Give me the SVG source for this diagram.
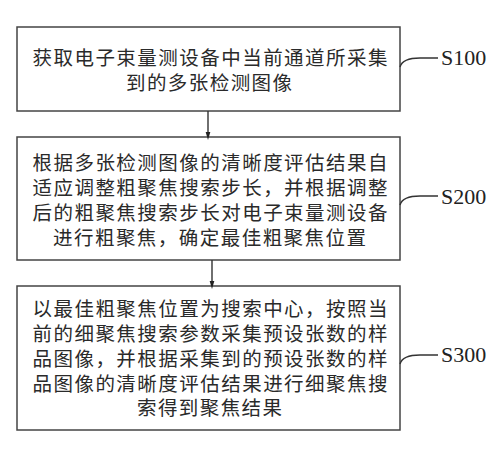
<svg xmlns="http://www.w3.org/2000/svg" width="501" height="455" viewBox="0 0 501 455">
<defs>
<marker id="arr" markerWidth="8" markerHeight="12" refX="7.5" refY="3.5" orient="auto" markerUnits="userSpaceOnUse" viewBox="0 0 12 7">
<path d="M0,0 L12,3.5 L0,7 Z" fill="#222"/>
</marker>
<style>
.box{fill:#fff;stroke:#444;stroke-width:1.5}
.t{font-family:"Noto Sans CJK SC","Noto Sans",sans-serif;font-size:19.5px;fill:#2a2a2a;text-anchor:middle}
.lbl{font-family:"Liberation Serif",serif;font-size:22px;fill:#222}
.ln{fill:none;stroke:#333;stroke-width:1.4}
</style>
</defs>
<rect width="501" height="455" fill="#fff"/>
<g id="n1">
<rect class="box" x="17" y="27" width="383" height="84"/>
<text class="t" x="210" y="65" textLength="355" lengthAdjust="spacing">获取电子束量测设备中当前通道所采集</text>
<text class="t" x="209" y="90" textLength="166" lengthAdjust="spacing">到的多张检测图像</text>
</g>
<g id="n2">
<rect class="box" x="17" y="137" width="383" height="123"/>
<text class="t" x="210" y="170" textLength="355" lengthAdjust="spacing">根据多张检测图像的清晰度评估结果自</text>
<text class="t" x="210" y="195" textLength="355" lengthAdjust="spacing">适应调整粗聚焦搜索步长，并根据调整</text>
<text class="t" x="210" y="220" textLength="355" lengthAdjust="spacing">后的粗聚焦搜索步长对电子束量测设备</text>
<text class="t" x="209.5" y="245" textLength="313" lengthAdjust="spacing">进行粗聚焦，确定最佳粗聚焦位置</text>
</g>
<g id="n3">
<rect class="box" x="17" y="286" width="383" height="144"/>
<text class="t" x="210" y="316" textLength="355" lengthAdjust="spacing">以最佳粗聚焦位置为搜索中心，按照当</text>
<text class="t" x="210" y="341" textLength="355" lengthAdjust="spacing">前的细聚焦搜索参数采集预设张数的样</text>
<text class="t" x="210" y="366" textLength="355" lengthAdjust="spacing">品图像，并根据采集到的预设张数的样</text>
<text class="t" x="210" y="391" textLength="355" lengthAdjust="spacing">品图像的清晰度评估结果进行细聚焦搜</text>
<text class="t" x="209.5" y="415" textLength="145" lengthAdjust="spacing">索得到聚焦结果</text>
</g>
<g id="labels">
<text class="lbl" x="441" y="65">S100</text>
<text class="lbl" x="441" y="204">S200</text>
<text class="lbl" x="441" y="362">S300</text>
</g>
<g id="connectors">
<line class="ln" x1="208" y1="111" x2="208" y2="137" marker-end="url(#arr)"/>
<line class="ln" x1="212" y1="260" x2="212" y2="286" marker-end="url(#arr)"/>
<path class="ln" d="M400,67 C402,60 410,58 420,58 L438,58"/>
<path class="ln" d="M400,205 C402,198 410,196 420,196 L438,196"/>
<path class="ln" d="M400,364 C402,357 410,355 420,355 L438,355"/>
</g>
</svg>
